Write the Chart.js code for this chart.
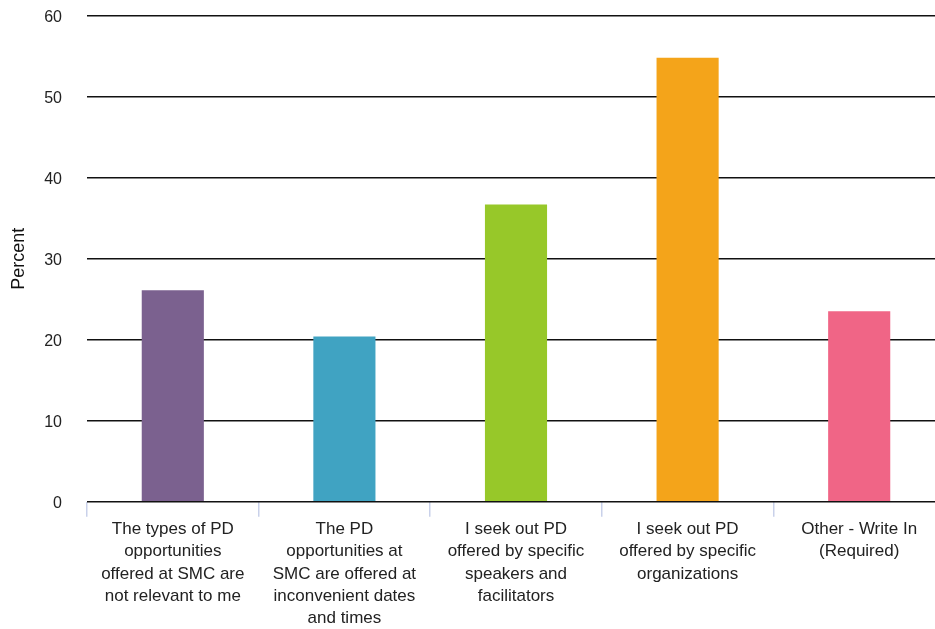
<!DOCTYPE html>
<html>
<head>
<meta charset="utf-8">
<script src="https://cdn.jsdelivr.net/npm/chart.js@4"></script>
<style>
  html, body { margin: 0; padding: 0; background: #fff; overflow: hidden; }
  #wrap { width: 945px; height: 648px; margin-top: -19px; }
</style>
</head>
<body>
<div id="wrap"><canvas id="chart" width="945" height="648"></canvas></div>
<script>
const categories = [
    ['The types of PD', 'opportunities', 'offered at SMC are', 'not relevant to me'],
    ['The PD', 'opportunities at', 'SMC are offered at', 'inconvenient dates', 'and times'],
    ['I seek out PD', 'offered by specific', 'speakers and', 'facilitators'],
    ['I seek out PD', 'offered by specific', 'organizations'],
    ['Other - Write In', '(Required)']
];
const percents = [26.1, 20.4, 36.7, 54.8, 23.5];
const barColors = ['#7b618f', '#40a3c2', '#97c829', '#f4a41a', '#f06586'];
const yTicks = [0, 10, 20, 30, 40, 50, 60];

const font = 'Helvetica, Arial, "Liberation Sans", sans-serif';

new Chart(document.getElementById('chart').getContext('2d'), {
    type: 'bar',
    data: {
        labels: categories,
        datasets: [{
            data: percents,
            backgroundColor: barColors,
            borderWidth: 0,
            barPercentage: 1,
            categoryPercentage: 0.362
        }]
    },
    options: {
        responsive: false,
        animation: false,
        layout: { padding: { left: 8, top: 0, right: 0, bottom: 4 } },
        plugins: {
            legend: { display: false },
            tooltip: { enabled: false }
        },
        scales: {
            x: {
                afterFit: scale => { scale.height -= 6; },
                grid: {
                    offset: true,
                    drawOnChartArea: false,
                    drawTicks: true,
                    tickLength: 15,
                    tickColor: '#c9d1ea',
                    lineWidth: 1.5
                },
                border: { display: false },
                ticks: {
                    maxRotation: 0,
                    autoSkip: false,
                    padding: 1,
                    color: '#222',
                    font: { family: font, size: 17, lineHeight: 1.32 }
                }
            },
            y: {
                min: 0,
                max: 60,
                afterBuildTicks: axis => { axis.ticks = yTicks.map(v => ({ value: v })); },
                afterFit: scale => { scale.width = 79; },
                grid: {
                    color: '#111',
                    lineWidth: 1.5,
                    drawTicks: false
                },
                border: { display: false },
                ticks: {
                    padding: 25,
                    labelOffset: 2,
                    color: '#222',
                    font: { family: font, size: 16 }
                },
                title: {
                    display: true,
                    text: 'Percent',
                    color: '#111',
                    padding: { top: 0, bottom: 6 },
                    font: { family: font, size: 18 }
                }
            }
        }
    }
});
</script>
</body>
</html>
